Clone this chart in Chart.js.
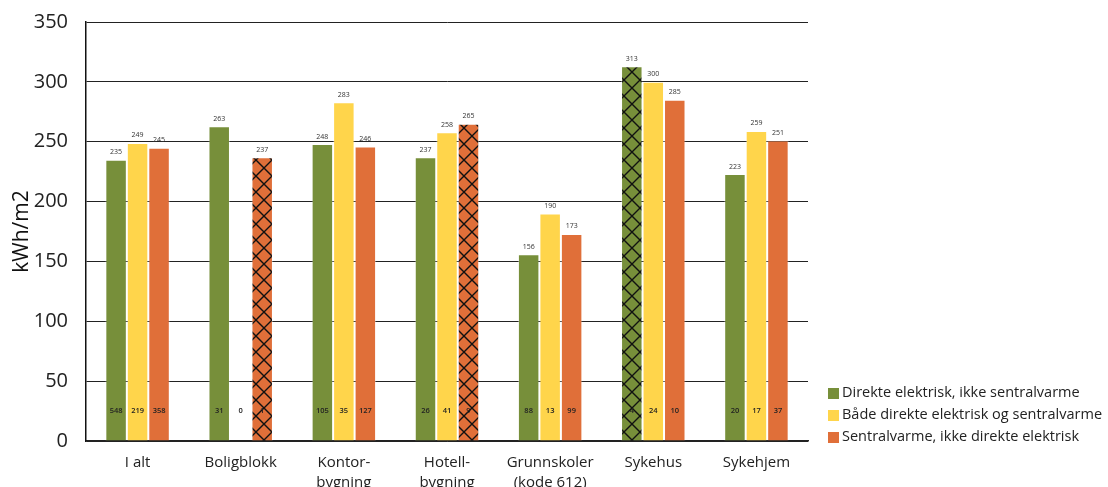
<!DOCTYPE html>
<html>
<head>
<meta charset="utf-8">
<script src="https://cdn.jsdelivr.net/npm/chart.js@4/dist/chart.umd.min.js"></script>
<style>
  html, body { margin: 0; padding: 0; background: #fff; }
  #wrap { width: 1108px; height: 487px; }
</style>
</head>
<body>
<div id="wrap"><canvas id="chart" width="1108" height="487"></canvas></div>
<script>
// Energibruk per bygningstype (kWh/m2) etter oppvarmingsløsning
const kategorier = ['I alt', 'Boligblokk', ['Kontor-', 'bygning'], ['Hotell-', 'bygning'],
  ['Grunnskoler', '(kode 612)'], 'Sykehus', 'Sykehjem'];

const serieNavn = [
  'Direkte elektrisk, ikke sentralvarme',
  'Både direkte elektrisk og sentralvarme',
  'Sentralvarme, ikke direkte elektrisk'
];

// kWh/m2
const direkteEl = [235, 263, 248, 237, 156, 313, 223];
const begge = [249, null, 283, 258, 190, 300, 259];
const sentralvarme = [245, 237, 246, 265, 173, 285, 251];

// antall bygg i hvert utvalg
const antallDirekteEl = [548, 31, 105, 26, 88, 4, 20];
const antallBegge = [219, 0, 35, 41, 13, 24, 17];
const antallSentral = [358, 1, 127, 9, 99, 10, 37];

const yTicks = [0, 50, 100, 150, 200, 250, 300, 350];

const farger = ['#778f3a', '#ffd54b', '#e06f39'];

// små utvalg (under 10 bygg) tegnes skravert
function skravur(farge) {
  const s = 16;
  const c = document.createElement('canvas');
  c.width = s; c.height = s;
  const g = c.getContext('2d');
  g.fillStyle = farge;
  g.fillRect(0, 0, s, s);
  g.strokeStyle = '#111';
  g.lineWidth = 1.4;
  g.beginPath();
  g.moveTo(-1, -1); g.lineTo(s + 1, s + 1);
  g.moveTo(s + 1, -1); g.lineTo(-1, s + 1);
  g.stroke();
  return g.createPattern(c, 'repeat');
}

function fyll(farge, antall) {
  const monster = skravur(farge);
  return antall.map(n => (n > 0 && n < 10) ? monster : farge);
}

const verdier = [direkteEl, begge, sentralvarme];
const antall = [antallDirekteEl, antallBegge, antallSentral];

const datasets = verdier.map((v, i) => ({
  label: serieNavn[i],
  data: v,
  backgroundColor: fyll(farger[i], antall[i]),
  borderColor: 'rgba(255,255,255,0.35)',
  borderWidth: 1,
  barPercentage: 1,
  categoryPercentage: 0.625,
  legendColor: farger[i]
}));

// verdier over søylene og antall bygg nederst i søylene
const etiketter = {
  id: 'etiketter',
  afterDatasetsDraw(chart) {
    const ctx = chart.ctx;
    const y = chart.scales.y;
    ctx.save();
    ctx.textAlign = 'center';
    chart.data.datasets.forEach((ds, di) => {
      const meta = chart.getDatasetMeta(di);
      meta.data.forEach((bar, i) => {
        const v = ds.data[i];
        if (v !== null) {
          ctx.font = '7px "Open Sans"';
          ctx.fillStyle = '#333';
          ctx.textBaseline = 'bottom';
          ctx.fillText(String(v), bar.x, y.getPixelForValue(v) - 4);
        }
        ctx.font = '600 7.5px "Open Sans"';
        ctx.fillStyle = '#222';
        ctx.textBaseline = 'middle';
        ctx.fillText(String(antall[di][i]), bar.x, y.getPixelForValue(25));
      });
    });
    ctx.restore();
  }
};

// forklaring nede til høyre
const forklaring = {
  id: 'forklaring',
  afterDraw(chart) {
    const ctx = chart.ctx;
    ctx.save();
    ctx.font = '14.5px "Open Sans"';
    ctx.textBaseline = 'middle';
    ctx.textAlign = 'left';
    chart.data.datasets.forEach((ds, i) => {
      const yy = 393 + i * 22;
      ctx.fillStyle = ds.legendColor;
      ctx.fillRect(828, yy - 5, 11, 11);
      ctx.fillStyle = '#222';
      ctx.fillText(ds.label, 842, yy);
    });
    ctx.restore();
  }
};

new Chart(document.getElementById('chart'), {
  type: 'bar',
  data: { labels: kategorier, datasets },
  plugins: [etiketter, forklaring],
  options: {
    responsive: false,
    animation: false,
    layout: { padding: { top: 22, right: 300, left: 0, bottom: 0 } },
    plugins: {
      legend: { display: false },
      tooltip: { enabled: false }
    },
    scales: {
      x: {
        grid: { display: false, drawTicks: false },
        border: { color: '#222', width: 1.5 },
        ticks: {
          color: '#222',
          padding: 12,
          maxRotation: 0,
          autoSkip: false,
          font: { family: '"Open Sans"', size: 15, lineHeight: 1.3 }
        },
        afterFit(scale) {
          scale.height = 46;
          scale.paddingLeft = 0;
          scale.paddingRight = 0;
        }
      },
      y: {
        min: 0,
        max: 350,
        afterBuildTicks(scale) { scale.ticks = yTicks.map(v => ({ value: v })); },
        grid: { color: '#222', lineWidth: 1, drawTicks: false },
        border: { color: '#111', width: 1.5 },
        ticks: {
          color: '#222',
          padding: 18,
          font: { family: '"Open Sans"', size: 20 }
        },
        title: {
          display: true,
          text: 'kWh/m2',
          color: '#111',
          padding: { top: 9, bottom: 0 },
          font: { family: '"Open Sans"', size: 21 }
        },
        afterFit(scale) {
          scale.width = 86;
          scale.paddingTop = 0;
          scale.paddingBottom = 0;
        }
      }
    }
  }
});
</script>
</body>
</html>
